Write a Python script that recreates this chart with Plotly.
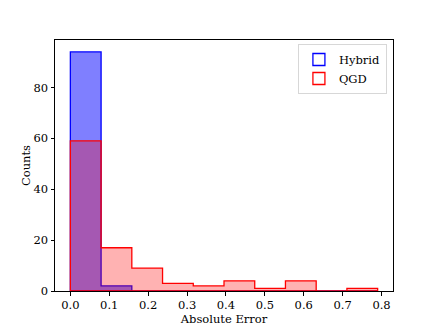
import plotly.graph_objects as go

# histogram bins shared by both series
bin_edges = [0.0, 0.079, 0.158, 0.237, 0.316, 0.395, 0.474, 0.553, 0.632, 0.711, 0.79]
hybrid_counts = [94, 2, 0, 0, 0, 0, 0, 0, 0, 0]
qgd_counts = [59, 17, 9, 3, 2, 4, 1, 4, 0, 1]
x_ticks = [0.0, 0.1, 0.2, 0.3, 0.4, 0.5, 0.6, 0.7, 0.8]
y_ticks = [0, 20, 40, 60, 80]


def step_outline(edges, counts):
    # closed step polygon like matplotlib histtype="stepfilled"
    xs = [edges[0]] + list(edges) + [edges[-1], edges[0]]
    ys = [0] + list(counts) + [counts[-1], 0, 0]
    return xs, ys


fig = go.Figure()

hx, hy = step_outline(bin_edges, hybrid_counts)
fig.add_trace(go.Scatter(x=hx, y=hy, mode="lines", line_shape="hv", fill="toself",
                         fillcolor="rgba(0,0,255,0.5)", line=dict(color="rgb(0,0,255)", width=1.3),
                         name="Hybrid", showlegend=False, hoverinfo="skip"))

qx, qy = step_outline(bin_edges, qgd_counts)
fig.add_trace(go.Scatter(x=qx, y=qy, mode="lines", line_shape="hv", fill="toself",
                         fillcolor="rgba(255,0,0,0.3)", line=dict(color="rgb(255,0,0)", width=1.3),
                         name="QGD", showlegend=False, hoverinfo="skip"))

# legend entries as outlined boxes
for name, col in [("Hybrid", "rgb(0,0,255)"), ("QGD", "rgb(255,0,0)")]:
    fig.add_trace(go.Bar(x=[None], y=[None], name=name, showlegend=True,
                         marker=dict(color="white", line=dict(color=col, width=1.3))))

axis_style = dict(showline=True, linecolor="black", linewidth=1, mirror=True, ticks="outside",
                  ticklen=3.5, tickwidth=0.8, tickcolor="black", showgrid=False, zeroline=False,
                  automargin=False)

# page body adds an 8px offset, so the figure is sized/margined to compensate
fig.update_layout(
    width=428, height=319,
    margin=dict(l=47, r=43, t=32, b=36),
    paper_bgcolor="white", plot_bgcolor="white",
    font=dict(family="DejaVu Serif", size=11.5, color="black"),
    showlegend=True,
    legend=dict(x=0.982, y=0.984, xanchor="right", yanchor="top",
                bordercolor="rgb(215,215,215)", borderwidth=1, bgcolor="rgba(255,255,255,0.8)",
                font=dict(size=11.5), tracegroupgap=0, itemwidth=30),
    xaxis=dict(range=[-0.0395, 0.8295], tickvals=x_ticks, ticktext=[f"{v:.1f}" for v in x_ticks],
               title=dict(text="Absolute Error", standoff=2, font=dict(size=11.5)), **axis_style),
    yaxis=dict(range=[0, 98.7], tickvals=y_ticks,
               title=dict(text="Counts", standoff=0, font=dict(size=11.5)), **axis_style),
)

fig.write_html("out.html")
